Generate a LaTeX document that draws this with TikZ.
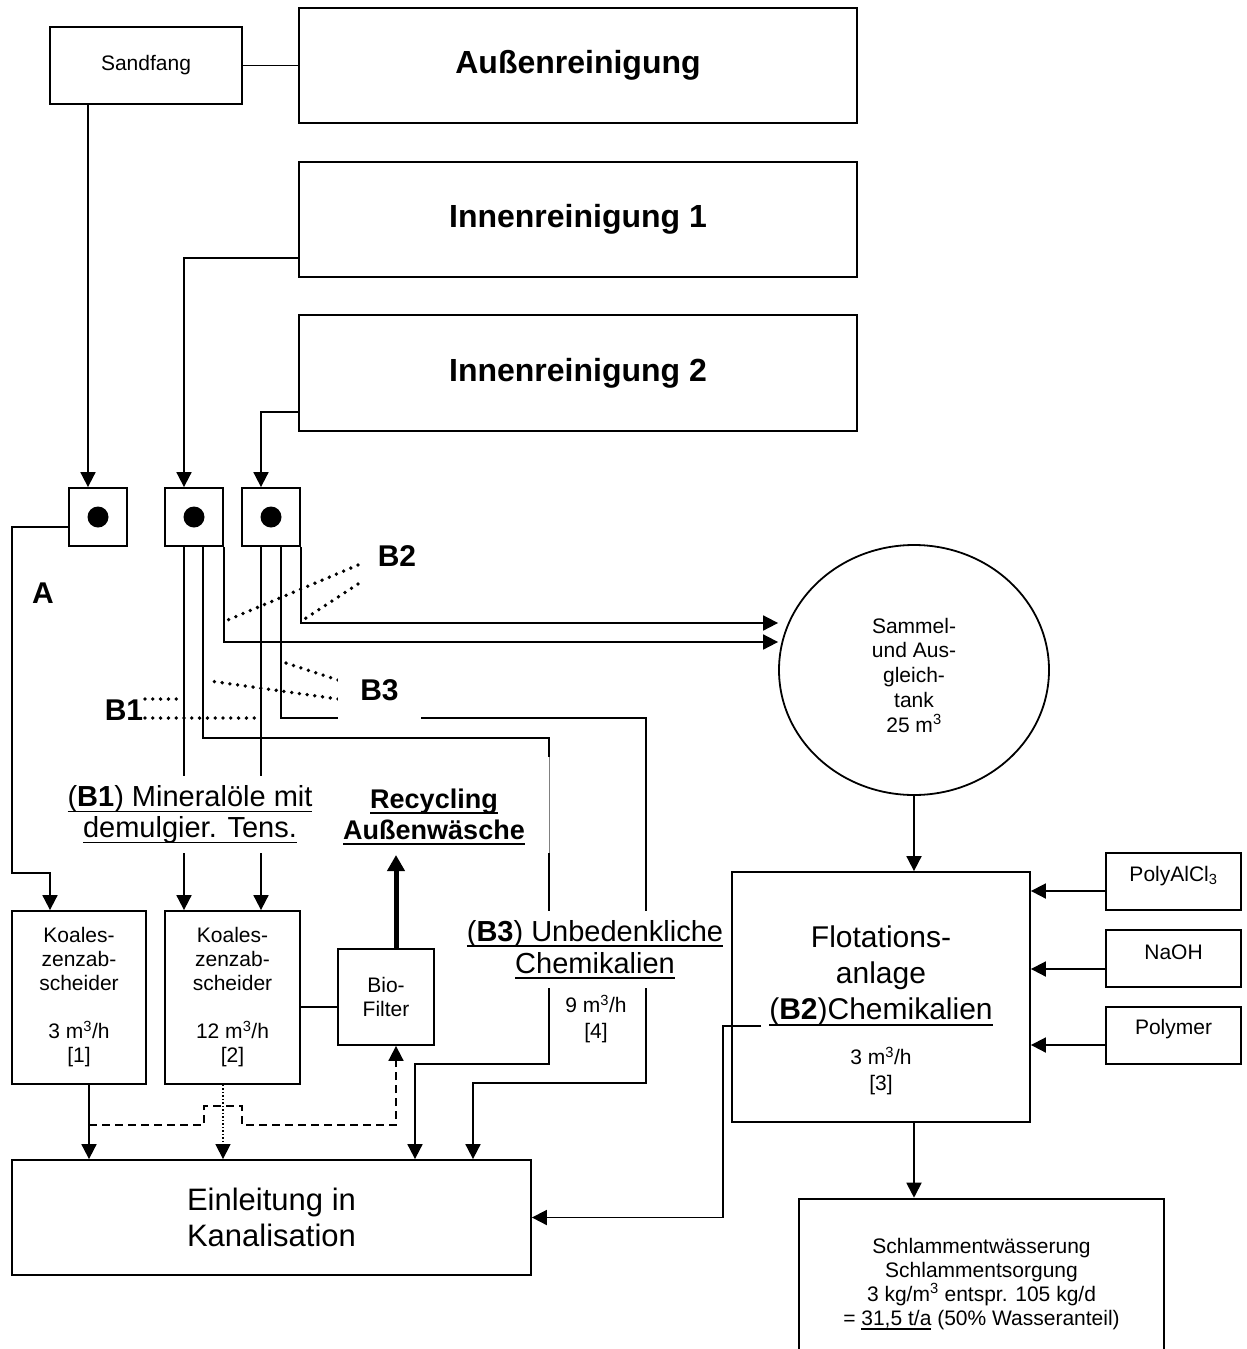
\documentclass[tikz,border=0pt]{standalone}
\usepackage{fontspec}
\setmainfont{Liberation Sans}
\usetikzlibrary{arrows.meta,shapes.geometric}
\newcommand\fsz[2]{\fontsize{#1pt}{#2pt}\selectfont}
\newsavebox\myulbox
\newcommand\myul[1]{\sbox\myulbox{#1}\leavevmode\rlap{\rule[-0.2em]{\wd\myulbox}{1.8pt}}\usebox\myulbox}
\begin{document}
\begin{tikzpicture}[x=1pt,y=-1pt,line width=1.8pt,
  box/.style={draw,line width=1.8pt,inner sep=0pt,align=center},
  arr/.style={-{Triangle[length=15pt,width=15pt]}},
  dotl/.style={line width=3.8pt,line cap=round,dash pattern=on 0pt off 7.8pt},
  txt/.style={align=center,inner sep=0pt},
  head/.style={font=\fsz{32}{36}\bfseries},
  small/.style={font=\fsz{21}{24}},
  lab/.style={font=\fsz{30}{34}\bfseries,inner sep=0pt}]
\useasboundingbox (0,0) rectangle (1247,1349);
\clip (0,0) rectangle (1247,1349);
\fill[white] (0,0) rectangle (1247,1349);

% ---------- boxes ----------
\node[box,small,minimum width=192pt,minimum height=77pt] (sand) at (146,65.5) {Sandfang};
\node[box,head,minimum width=558pt,minimum height=115pt] (aussen) at (578,65.5) {Außenreinigung};
\node[box,head,minimum width=558pt,minimum height=115pt] (innen1) at (578,219.5) {Innenreinigung 1};
\node[box,head,minimum width=558pt,minimum height=116pt] (innen2) at (578,373) {Innenreinigung 2};

\node[box,minimum width=58pt,minimum height=58pt] (m1) at (98,517) {};
\node[box,minimum width=58pt,minimum height=58pt] (m2) at (194,517) {};
\node[box,minimum width=58pt,minimum height=58pt] (m3) at (271,517) {};
\fill (m1.center) circle (10.5pt);
\fill (m2.center) circle (10.5pt);
\fill (m3.center) circle (10.5pt);

\node[box,small,minimum width=134pt,minimum height=173pt] (k1) at (79,997.5)
  {Koales-\\zenzab-\\scheider\\[24pt]3 m\textsuperscript{3}/h\\{}[1]};
\node[box,small,minimum width=135pt,minimum height=173pt] (k2) at (232.5,997.5)
  {Koales-\\zenzab-\\scheider\\[24pt]12 m\textsuperscript{3}/h\\{}[2]};
\node[box,small,minimum width=96pt,minimum height=96pt] (bio) at (386,997) {Bio-\\Filter};

\node[box,font=\fsz{31}{36},minimum width=519pt,minimum height=115pt] (einl) at (271.5,1217.5)
  {Einleitung in\\Kanalisation};

\node[draw,ellipse,line width=1.8pt,minimum width=270pt,minimum height=250pt,inner sep=0pt] (tank) at (914,670) {};
\node[txt,font=\fsz{21}{24.75}] (tanktxt) at (914,675) {Sammel-\\und Aus-\\gleich-\\tank\\25 m\textsuperscript{3}};

\node[box,minimum width=298pt,minimum height=250pt] (flot) at (881,997) {};
\node[txt,font=\fsz{30}{36}] (flottxt) at (881,976)
  {Flotations-\\anlage\\\myul{(\textbf{B2})Chemikalien}};
\node[txt,font=\fsz{21}{26}] (flotrate) at (881,1071) {3 m\textsuperscript{3}/h\\{}[3]};

\node[box,minimum width=135pt,minimum height=57pt] (poly) at (1173.5,881.5) {};
\node[box,minimum width=135pt,minimum height=57pt] (naoh) at (1173.5,958.5) {};
\node[box,minimum width=135pt,minimum height=57pt] (polym) at (1173.5,1035.5) {};
\node[txt,small] at (1173.5,876) {PolyAlCl\textsubscript{3}};
\node[txt,small] at (1173.5,952) {NaOH};
\node[txt,small] at (1173.5,1029) {Polymer};

\node[draw,line width=2.6pt,minimum width=365pt,minimum height=202pt,inner sep=0pt] (schl) at (981.5,1300) {};
\node[txt,small] (schltxt) at (981.5,1284)
  {Schlammentwässerung\\Schlammentsorgung\\3 kg/m\textsuperscript{3} entspr. 105 kg/d\\= \myul{31,5 t/a} (50\% Wasseranteil)};

% ---------- connectors top ----------
\draw (sand.east) -- (aussen.west |- sand.east);
\draw[arr] (sand.south -| 88,0) -- (88,0 |- m1.north);
\draw[arr] (innen1.west |- 0,258) -| (184,0 |- m2.north);
\draw[arr] (innen2.west |- 0,412) -| (261,0 |- m3.north);

% ---------- from manholes ----------
\draw[arr] (m1.west |- 0,527) -- (12,527) -- (12,873) -- (50,873) -- (50,0 |- k1.north);
\draw[arr] (184,0 |- m2.south) -- (184,0 |- k2.north);
\draw[arr] (261,0 |- m3.south) -- (261,0 |- k2.north);
\draw[arr] (m2.south east) |- (tank.west |- 0,642);
\draw[arr] (m3.south east) |- (tank.west |- 0,623);
\draw[arr] (203,0 |- m2.south) -- (203,738) -- (549,738) -- (549,1064) -- (415,1064) -- (415,0 |- einl.north);
\draw[arr] (281,0 |- m3.south) -- (281,718) -- (646,718) -- (646,1083) -- (473,1083) -- (473,0 |- einl.north);
\draw[white,line width=2.4pt] (549,757) -- (549,853);
\draw[black!50,line width=0.9pt] (549,757) -- (549,853);

% ---------- tank / flotation ----------
\draw[arr] (tank.south) -- (tank.south |- flot.north);
\draw[arr] (poly.west |- 0,891) -- (flot.east |- 0,891);
\draw[arr] (naoh.west |- 0,969) -- (flot.east |- 0,969);
\draw[arr] (polym.west |- 0,1045) -- (flot.east |- 0,1045);
\draw[arr] (914,0 |- flot.south) -- (914,0 |- schl.north);
\coordinate (b2out) at (761,1026);
\draw[arr] (b2out) -- (723,1026) -- (723,0 |- einl.east) -- (einl.east);

% ---------- bottom left ----------
\draw[arr] (89,0 |- k1.south) -- (89,0 |- einl.north);
\draw[arr,line width=1.3pt,dash pattern=on 1.5pt off 2pt] (223,0 |- k2.south) -- (223,0 |- einl.north);
\coordinate (dj) at (89,1125);
\draw[arr,dash pattern=on 8pt off 5pt] (dj) -- (204,1125) -- (204,1106) -- (242,1106) -- (242,1125) -- (396,1125) -- (396,0 |- bio.south);
\draw (k2.east |- 0,1007) -- (bio.west |- 0,1007);
\coordinate (rectip) at (396,855);
\draw[-{Triangle[length=16pt,width=17pt]},line width=5pt] (396,0 |- bio.north) -- (rectip);

% ---------- dotted markers ----------
\draw[dotl] (358,565) -- (223,622);
\draw[dotl] (358,584) -- (303,620);
\draw[dotl] (338,680) -- (283,662);
\draw[dotl] (338,699) -- (210,681);
\draw[dotl] (145,699) -- (180,699);
\draw[dotl] (145,718) -- (260,718);

% ---------- labels ----------
\node[lab] (lA) at (43,593) {A};
\node[lab] (lB2) at (397,556) {B2};
\node[lab,fill=white,minimum width=83pt,minimum height=60pt] (lB3) at (379.5,690) {B3};
\node[lab] (lB1) at (124,710) {B1};

\node[txt,fill=white,minimum height=77pt,font=\fsz{29}{31}] (tB1) at (190,814.5)
  {\myul{(\textbf{B1}) Mineralöle mit}\\\myul{demulgier. Tens.}};
\node[txt,fill=white,minimum height=77pt,font=\fsz{29}{32}] (tB3) at (595,949.5)
  {\myul{(\textbf{B3}) Unbedenkliche}\\\myul{Chemikalien}};
\node[txt,font=\fsz{27}{31}\bfseries] (rec) at (434,817) {\myul{Recycling}\\\myul{Außenwäsche}};
\node[txt,font=\fsz{21}{26}] (r4) at (596,1019) {9 m\textsuperscript{3}/h\\{}[4]};
\end{tikzpicture}
\end{document}
